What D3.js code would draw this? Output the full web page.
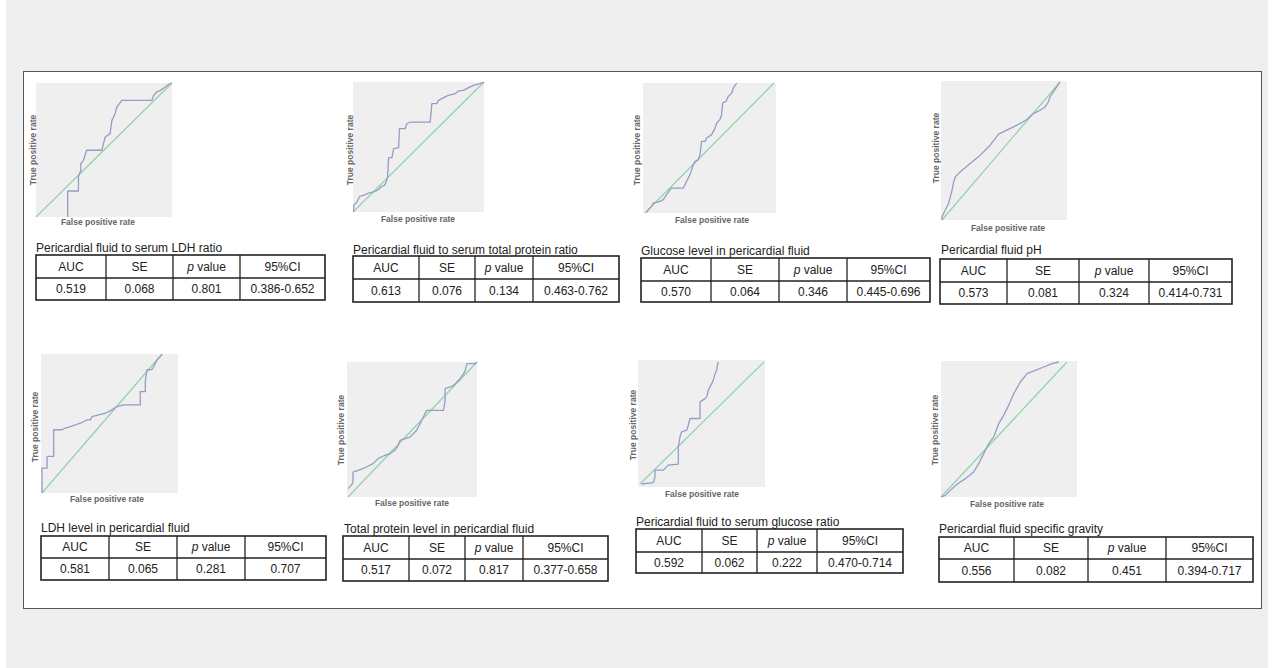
<!DOCTYPE html>
<html>
<head>
<meta charset="utf-8">
<script src="https://cdn.jsdelivr.net/npm/d3@7"></script>
<style>
  html, body { margin: 0; padding: 0; background: #ffffff; }
  svg { display: block; }
  text { font-family: "Liberation Sans", Arial, sans-serif; }
</style>
</head>
<body>
<svg id="chart" width="1274" height="668"></svg>
<script>
// ---- data ----------------------------------------------------------------
const panelTitles = [
  "Pericardial fluid to serum LDH ratio",
  "Pericardial fluid to serum total protein ratio",
  "Glucose level in pericardial fluid",
  "Pericardial fluid pH",
  "LDH level in pericardial fluid",
  "Total protein level in pericardial fluid",
  "Pericardial fluid to serum glucose ratio",
  "Pericardial fluid specific gravity"
];
const tableHeaders = ["AUC", "SE", "p value", "95%CI"];
const aucValues = [0.519, 0.613, 0.570, 0.573, 0.581, 0.517, 0.592, 0.556];
const seValues  = [0.068, 0.076, 0.064, 0.081, 0.065, 0.072, 0.062, 0.082];
const pValues   = [0.801, 0.134, 0.346, 0.324, 0.281, 0.817, 0.222, 0.451];
const ciLabels  = ["0.386-0.652", "0.463-0.762", "0.445-0.696", "0.414-0.731",
                   "0.707", "0.377-0.658", "0.470-0.714", "0.394-0.717"];
const xAxisLabel = "False positive rate";
const yAxisLabel = "True positive rate";

// ROC curves: [false positive rate, true positive rate]
const rocLdhRatio = [
  [0.233,0.000],[0.233,0.194],[0.312,0.194],[0.312,0.299],[0.329,0.348],[0.329,0.398],
  [0.349,0.423],[0.373,0.498],[0.484,0.498],[0.496,0.547],[0.509,0.597],[0.545,0.622],
  [0.558,0.721],[0.582,0.771],[0.595,0.821],[0.631,0.871],[0.853,0.871],[0.865,0.908],
  [0.889,0.933],[0.914,0.945],[0.951,0.970],[0.975,0.990],[1.000,1.000]
];
const rocProteinRatio = [
  [0.005,0.000],[0.005,0.051],[0.030,0.077],[0.051,0.121],[0.081,0.128],[0.119,0.146],
  [0.157,0.154],[0.195,0.172],[0.213,0.192],[0.239,0.205],[0.254,0.231],[0.264,0.269],
  [0.272,0.418],[0.297,0.418],[0.310,0.487],[0.348,0.495],[0.355,0.641],[0.398,0.641],
  [0.411,0.679],[0.437,0.692],[0.589,0.692],[0.602,0.833],[0.640,0.833],[0.652,0.859],
  [0.678,0.872],[0.703,0.885],[0.728,0.897],[0.779,0.910],[0.805,0.931],[0.843,0.936],
  [0.868,0.949],[0.919,0.974],[0.970,0.987],[1.000,1.000]
];
const rocGlucoseLevel = [
  [0.013,0.005],[0.026,0.026],[0.052,0.051],[0.065,0.077],[0.090,0.082],[0.116,0.090],
  [0.142,0.103],[0.168,0.141],[0.194,0.179],[0.207,0.192],[0.297,0.192],[0.323,0.244],
  [0.349,0.295],[0.375,0.372],[0.388,0.397],[0.413,0.410],[0.426,0.449],[0.439,0.551],
  [0.465,0.551],[0.478,0.577],[0.517,0.603],[0.543,0.654],[0.556,0.692],[0.581,0.718],
  [0.594,0.756],[0.602,0.846],[0.628,0.859],[0.646,0.897],[0.672,0.923],[0.685,0.962],
  [0.711,1.000]
];
const rocPh = [
  [0.000,0.000],[0.000,0.024],[0.028,0.072],[0.056,0.120],[0.085,0.217],[0.099,0.277],
  [0.113,0.313],[0.155,0.349],[0.239,0.410],[0.324,0.470],[0.408,0.542],[0.479,0.622],
  [0.549,0.651],[0.606,0.675],[0.662,0.699],[0.718,0.728],[0.775,0.771],[0.831,0.795],
  [0.873,0.819],[0.901,0.855],[0.915,0.892],[0.944,0.928],[0.972,0.964],[1.000,1.000]
];
const rocLdhLevel = [
  [0.000,0.000],[0.000,0.179],[0.042,0.179],[0.042,0.263],[0.097,0.263],[0.097,0.455],
  [0.167,0.455],[0.194,0.467],[0.236,0.478],[0.278,0.490],[0.333,0.507],[0.375,0.526],
  [0.403,0.526],[0.417,0.550],[0.472,0.562],[0.528,0.574],[0.583,0.598],[0.625,0.622],
  [0.681,0.634],[0.819,0.634],[0.819,0.730],[0.861,0.730],[0.861,0.804],[0.875,0.885],
  [0.917,0.890],[0.931,0.909],[0.944,0.933],[0.958,0.957],[0.986,0.981],[1.000,1.000]
];
const rocProteinLevel = [
  [0.000,0.062],[0.026,0.086],[0.039,0.111],[0.039,0.185],[0.078,0.198],[0.117,0.210],
  [0.143,0.222],[0.195,0.247],[0.234,0.284],[0.286,0.309],[0.325,0.321],[0.364,0.346],
  [0.390,0.383],[0.403,0.420],[0.442,0.432],[0.481,0.444],[0.532,0.494],[0.558,0.543],
  [0.584,0.593],[0.610,0.642],[0.740,0.642],[0.753,0.716],[0.753,0.802],[0.792,0.815],
  [0.818,0.827],[0.844,0.852],[0.870,0.877],[0.896,0.914],[0.909,0.938],[0.922,0.988],
  [0.987,0.988],[1.000,1.000]
];
const rocGlucoseRatio = [
  [0.013,0.000],[0.054,0.005],[0.108,0.011],[0.121,0.060],[0.121,0.114],[0.188,0.114],
  [0.202,0.128],[0.228,0.155],[0.309,0.163],[0.309,0.305],[0.323,0.387],[0.336,0.428],
  [0.376,0.441],[0.390,0.482],[0.403,0.537],[0.484,0.537],[0.484,0.673],[0.524,0.700],
  [0.538,0.714],[0.551,0.768],[0.565,0.796],[0.578,0.823],[0.591,0.850],[0.605,0.905],
  [0.618,0.932],[0.624,0.973],[0.632,1.000]
];
const rocGravity = [
  [0.000,0.000],[0.034,0.012],[0.074,0.049],[0.127,0.094],[0.193,0.136],[0.259,0.185],
  [0.299,0.247],[0.339,0.321],[0.378,0.395],[0.418,0.444],[0.458,0.543],[0.497,0.605],
  [0.537,0.679],[0.577,0.765],[0.630,0.852],[0.683,0.914],[0.749,0.938],[0.815,0.963],
  [0.881,0.988],[0.934,1.000]
];
const rocCurves = [rocLdhRatio, rocProteinRatio, rocGlucoseLevel, rocPh,
                   rocLdhLevel, rocProteinLevel, rocGlucoseRatio, rocGravity];
const referenceLine = [[0, 0], [1, 1]];

// ---- layout of each panel (pixels) ----------------------------------------
// frame: grey plot background, unit: the [0,1]x[0,1] square,
// yLab / xLab: centres of axis titles, title: left/middle of the caption,
// table: box of the statistics table with its column and row splits
const layout = [
  { frame:[36,83,172,217],   unit:[36,83,172,217],    yLab:[33,150],  xLab:[98,222],
    title:[36,248],  table:{x0:36,x1:325,y0:255,y1:300,ys:278,cols:[106,173,240]} },
  { frame:[353,82,484,212],  unit:[353,82,484,212],   yLab:[350,150], xLab:[418,219],
    title:[353,250], table:{x0:353,x1:619,y0:256,y1:302,ys:279,cols:[419,475,533]} },
  { frame:[643,83,776,213],  unit:[645,83,774,213],   yLab:[637,150], xLab:[712,220],
    title:[641,251], table:{x0:641,x1:930,y0:258,y1:302,ys:281,cols:[711,779,847]} },
  { frame:[941,81,1067,220], unit:[942,82,1060,220],  yLab:[936,148], xLab:[1008,228],
    title:[941,250], table:{x0:940,x1:1232,y0:259,y1:304,ys:282,cols:[1007,1079,1149]} },
  { frame:[41,354,178,493],  unit:[42,354,162,493],   yLab:[35,427],  xLab:[107,499],
    title:[41,528],  table:{x0:41,x1:326,y0:536,y1:580,ys:558,cols:[109,177,245]} },
  { frame:[347,362,477,497], unit:[348,362,477,497],  yLab:[341,430], xLab:[412,503],
    title:[344,529], table:{x0:343,x1:608,y0:536,y1:581,ys:559,cols:[409,465,523]} },
  { frame:[638,360,765,487], unit:[640,362,764,484],  yLab:[633,425], xLab:[702,494],
    title:[636,522], table:{x0:636,x1:903,y0:529,y1:573,ys:552,cols:[702,757,817]} },
  { frame:[941,361,1077,497],unit:[941,362,1067,497], yLab:[935,430], xLab:[1007,504],
    title:[939,529], table:{x0:939,x1:1253,y0:537,y1:582,ys:559,cols:[1014,1088,1166]} }
];

// ---- drawing ----------------------------------------------------------------
const svg = d3.select("#chart");
const fmt = d3.format(".3f");

svg.append("rect").attr("x", 6).attr("y", 0).attr("width", 1262).attr("height", 668)
  .attr("fill", "#efefef");
svg.append("rect").attr("x", 23.5).attr("y", 71.5).attr("width", 1238).attr("height", 537)
  .attr("fill", "#ffffff").attr("stroke", "#555").attr("stroke-width", 1);

panelTitles.forEach((title, i) => {
  const L = layout[i];
  const g = svg.append("g");

  const x = d3.scaleLinear().domain([0, 1]).range([L.unit[0], L.unit[2]]);
  const y = d3.scaleLinear().domain([0, 1]).range([L.unit[3], L.unit[1]]);

  g.append("rect")
    .attr("x", L.frame[0]).attr("y", L.frame[1])
    .attr("width", L.frame[2] - L.frame[0]).attr("height", L.frame[3] - L.frame[1])
    .attr("fill", "#efefef");

  const line = d3.line().x(d => x(d[0])).y(d => y(d[1]));

  g.append("path").datum(referenceLine).attr("d", line)
    .attr("fill", "none").attr("stroke", "#93d1ab").attr("stroke-width", 1.2);
  g.append("path").datum(rocCurves[i]).attr("d", line)
    .attr("fill", "none").attr("stroke", "#979cc4").attr("stroke-width", 1.3)
    .attr("stroke-linejoin", "round");

  g.append("text")
    .attr("transform", `translate(${L.yLab[0]},${L.yLab[1]}) rotate(-90)`)
    .attr("text-anchor", "middle").attr("dy", "0.35em")
    .attr("font-size", 8.5).attr("font-weight", "bold").attr("fill", "#666")
    .text(yAxisLabel);
  g.append("text")
    .attr("x", L.xLab[0]).attr("y", L.xLab[1]).attr("dy", "0.35em")
    .attr("text-anchor", "middle").attr("font-size", 8.5).attr("font-weight", "bold")
    .attr("fill", "#666").text(xAxisLabel);

  g.append("text")
    .attr("x", L.title[0]).attr("y", L.title[1]).attr("dy", "0.35em")
    .attr("font-size", 12).attr("fill", "#222").text(title);

  // statistics table
  const T = L.table;
  const tg = g.append("g");
  tg.append("rect").attr("x", T.x0).attr("y", T.y0)
    .attr("width", T.x1 - T.x0).attr("height", T.y1 - T.y0)
    .attr("fill", "#fff").attr("stroke", "#222").attr("stroke-width", 1.6);
  tg.append("line").attr("x1", T.x0).attr("x2", T.x1).attr("y1", T.ys).attr("y2", T.ys)
    .attr("stroke", "#222").attr("stroke-width", 1.3);
  T.cols.forEach(cx => {
    tg.append("line").attr("x1", cx).attr("x2", cx).attr("y1", T.y0).attr("y2", T.y1)
      .attr("stroke", "#222").attr("stroke-width", 1.3);
  });
  const edges = [T.x0, ...T.cols, T.x1];
  const rowVals = [fmt(aucValues[i]), fmt(seValues[i]), fmt(pValues[i]), ciLabels[i]];
  tableHeaders.forEach((h, c) => {
    const cx = (edges[c] + edges[c + 1]) / 2;
    const ht = tg.append("text").attr("x", cx).attr("y", (T.y0 + T.ys) / 2).attr("dy", "0.35em")
      .attr("text-anchor", "middle").attr("font-size", 12).attr("fill", "#222");
    if (h.startsWith("p ")) {
      ht.append("tspan").attr("font-style", "italic").text("p");
      ht.append("tspan").text(h.slice(1));
    } else {
      ht.text(h);
    }
    tg.append("text").attr("x", cx).attr("y", (T.ys + T.y1) / 2).attr("dy", "0.35em")
      .attr("text-anchor", "middle").attr("font-size", 12).attr("fill", "#222")
      .text(rowVals[c]);
  });
});
</script>
</body>
</html>
